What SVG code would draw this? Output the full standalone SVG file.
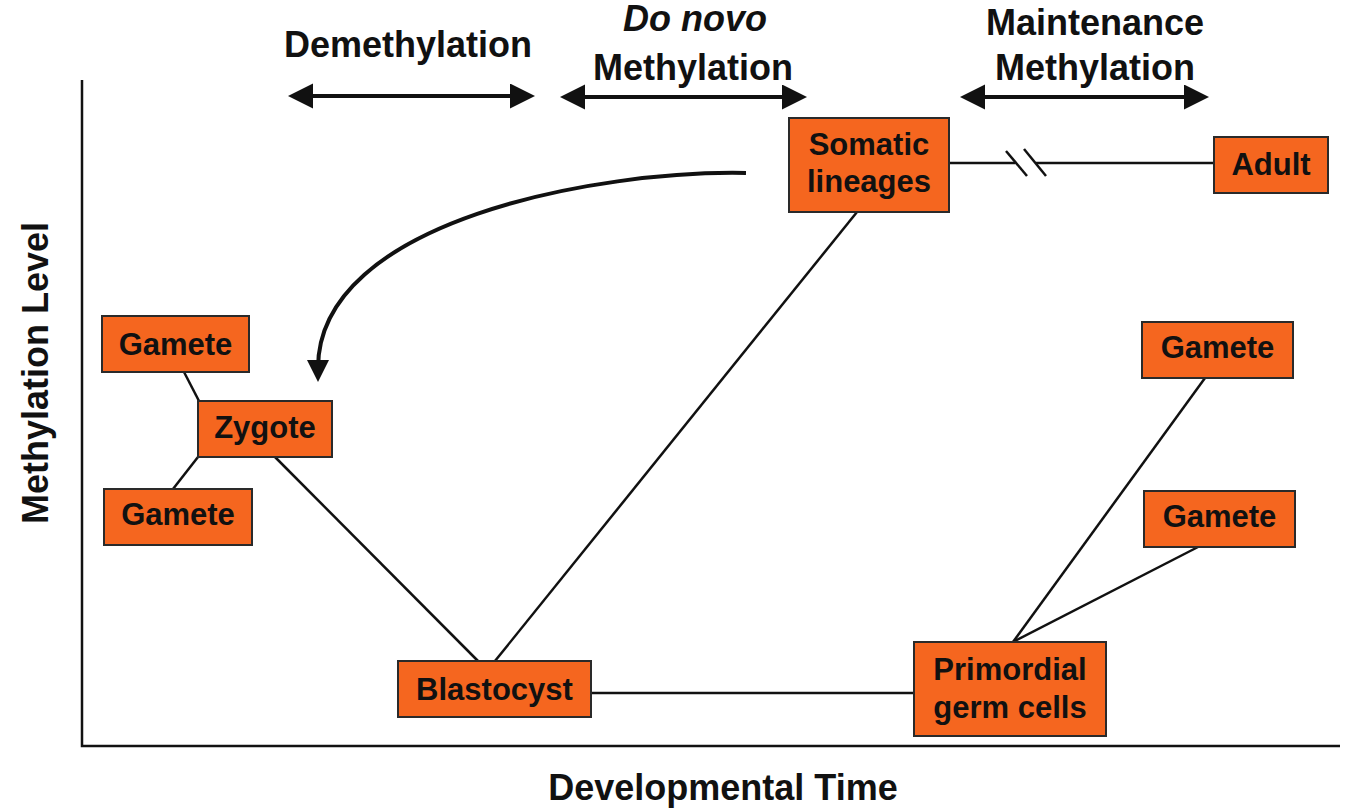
<svg xmlns="http://www.w3.org/2000/svg" width="1345" height="811" viewBox="0 0 1345 811">
<style>
.box{fill:#F5661F;stroke:#2a2a2a;stroke-width:2}
.lbl{font-family:"Liberation Sans",Arial,sans-serif;font-weight:bold;font-size:31px;fill:#111;text-anchor:middle}
.hdr{font-family:"Liberation Sans",Arial,sans-serif;font-weight:bold;font-size:36px;fill:#111;text-anchor:middle}
.ln{stroke:#111;stroke-width:2.5;fill:none}
.arr{stroke:#111;stroke-width:4;fill:none}
</style>
<defs>
<marker id="ah" markerUnits="userSpaceOnUse" markerWidth="26" markerHeight="26" refX="10" refY="12.5" orient="auto-start-reverse" viewBox="0 0 26 26">
<path d="M0,0 L25,12.5 L0,25 z" fill="#111"/>
</marker>
<marker id="ah2" markerUnits="userSpaceOnUse" markerWidth="24" markerHeight="24" refX="8" refY="11" orient="auto" viewBox="0 0 24 24">
<path d="M0,0 L22,11 L0,22 z" fill="#111"/>
</marker>
</defs>
<rect width="1345" height="811" fill="#fff"/>

<g id="axes">
<path class="ln" d="M82,80 V746 H1340"/>
<text class="hdr" x="723" y="800">Developmental Time</text>
<text class="hdr" transform="translate(48,373) rotate(-90)">Methylation Level</text>
</g>

<g id="headers">
<text class="hdr" x="408" y="57">Demethylation</text>
<text class="hdr" x="695" y="31" font-style="italic">Do novo</text>
<text class="hdr" x="693" y="80">Methylation</text>
<text class="hdr" x="1095" y="35">Maintenance</text>
<text class="hdr" x="1095" y="80">Methylation</text>
</g>

<g id="connectors">
<line class="arr" x1="303" y1="96" x2="520" y2="96" marker-start="url(#ah)" marker-end="url(#ah)"/>
<line class="arr" x1="575" y1="97" x2="792" y2="97" marker-start="url(#ah)" marker-end="url(#ah)"/>
<line class="arr" x1="975" y1="97" x2="1194" y2="97" marker-start="url(#ah)" marker-end="url(#ah)"/>
<path class="arr" d="M746,173 C600,170 318,220 318,368" marker-end="url(#ah2)"/>
<line class="ln" x1="184" y1="372" x2="199" y2="401"/>
<line class="ln" x1="198" y1="457" x2="173" y2="489"/>
<line class="ln" x1="275" y1="457" x2="478" y2="661"/>
<line class="ln" x1="495" y1="661" x2="857" y2="212"/>
<line class="ln" x1="591" y1="693" x2="914" y2="693"/>
<line class="ln" x1="1013" y1="642" x2="1205" y2="378"/>
<line class="ln" x1="1013" y1="642" x2="1198" y2="547"/>
<line class="ln" x1="949" y1="163" x2="1015" y2="163"/>
<line class="ln" x1="1036" y1="163" x2="1214" y2="163"/>
<line class="ln" x1="1006" y1="151" x2="1027" y2="176"/>
<line class="ln" x1="1024" y1="149" x2="1046" y2="176"/>
</g>

<g id="gamete-tl"><rect class="box" x="102" y="316" width="147" height="56"/><text class="lbl" x="175.5" y="355">Gamete</text></g>
<g id="zygote"><rect class="box" x="198" y="401" width="134" height="56"/><text class="lbl" x="265" y="438">Zygote</text></g>
<g id="gamete-bl"><rect class="box" x="104" y="489" width="148" height="56"/><text class="lbl" x="178" y="525">Gamete</text></g>
<g id="blastocyst"><rect class="box" x="398" y="661" width="193" height="56"/><text class="lbl" x="494.5" y="700">Blastocyst</text></g>
<g id="somatic"><rect class="box" x="789" y="118" width="160" height="94"/><text class="lbl" x="869" y="155">Somatic</text><text class="lbl" x="869" y="192">lineages</text></g>
<g id="adult"><rect class="box" x="1214" y="137" width="114" height="56"/><text class="lbl" x="1271" y="175">Adult</text></g>
<g id="gamete-tr"><rect class="box" x="1142" y="322" width="151" height="56"/><text class="lbl" x="1217.5" y="358">Gamete</text></g>
<g id="gamete-br"><rect class="box" x="1144" y="491" width="151" height="56"/><text class="lbl" x="1219.5" y="527">Gamete</text></g>
<g id="pgc"><rect class="box" x="914" y="642" width="192" height="94"/><text class="lbl" x="1010" y="680">Primordial</text><text class="lbl" x="1010" y="718">germ cells</text></g>
</svg>
